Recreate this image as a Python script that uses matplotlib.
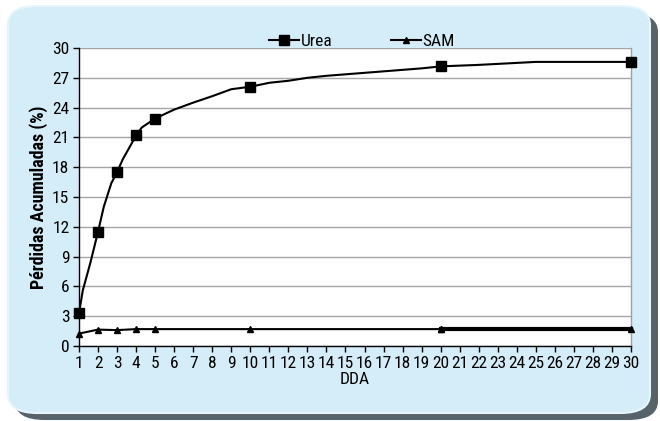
import matplotlib
matplotlib.use("Agg")
import matplotlib.pyplot as plt
from matplotlib import font_manager
from matplotlib.patches import FancyBboxPatch
from matplotlib.lines import Line2D

#--------------------------------------------------------------------
# DATA
#--------------------------------------------------------------------
MARKER_DAYS = [1, 2, 3, 4, 5, 10, 20, 30]
UREA = [3.3, 11.5, 17.5, 21.2, 22.9, 26.1, 28.15, 28.6]
SAM = [1.25, 1.65, 1.6, 1.7, 1.7, 1.7, 1.7, 1.7]

# smoothed urea curve
UREA_CURVE_DAYS = [1, 1.2, 1.6, 2, 2.3, 2.7, 3, 3.3, 3.8, 4, 4.3, 5, 6, 7, 8, 9,
                   10, 11, 12, 13, 14, 15, 16, 17, 18, 19, 20, 22, 25, 30]
UREA_CURVE = [3.3, 5.6, 8.4, 11.5, 14.0, 16.4, 17.5, 18.8, 20.5, 21.2, 22.0, 22.9,
              23.8, 24.5, 25.15, 25.85, 26.1, 26.5, 26.7, 27.0, 27.2, 27.35, 27.5,
              27.65, 27.8, 27.95, 28.15, 28.3, 28.6, 28.6]

X_TICKS = list(range(1, 31))
Y_TICKS = list(range(0, 31, 3))


def pick_font(names):
    for name in names:
        try:
            font_manager.findfont(name, fallback_to_default=False)
            return name
        except Exception:
            continue
    return "DejaVu Sans"


FONT = pick_font(["Liberation Sans Narrow", "Roboto Condensed", "Liberation Sans"])
plt.rcParams["font.family"] = [FONT, "DejaVu Sans"]

BOX_COLOR = "#d5edf8"
W, H = 660, 421

fig = plt.figure(figsize=(W / 100, H / 100), dpi=100)
fig.patch.set_facecolor("white")

# shadow + rounded panel (pixel boxes converted to figure coords)
shadow = FancyBboxPatch((15 / W, 1 / H), 643 / W, 407 / H,
                        boxstyle="round,pad=0,rounding_size=0.045",
                        transform=fig.transFigure, facecolor="#56636a",
                        edgecolor="none", zorder=0)
panel = FancyBboxPatch((8 / W, 8 / H), 642 / W, 407 / H,
                       boxstyle="round,pad=0,rounding_size=0.045",
                       transform=fig.transFigure, facecolor=BOX_COLOR,
                       edgecolor="#e6f4fb", linewidth=1.5, zorder=1)
fig.patches.extend([shadow, panel])

ax = fig.add_axes([79 / W, 1 - 346 / H, 552 / W, 298 / H])
ax.set_zorder(2)
ax.set_facecolor("white")

ax.plot(UREA_CURVE_DAYS, UREA_CURVE, color="black", lw=1.5, zorder=3)
ax.plot(MARKER_DAYS, UREA, ls="none", marker="s", ms=7.5, color="black",
        zorder=4, clip_on=False)

ax.plot(MARKER_DAYS[:7], SAM[:7], color="black", lw=1.5, marker="^", ms=5,
        zorder=3, clip_on=False)
ax.plot(MARKER_DAYS[6:], SAM[6:], color="black", lw=3, marker="^", ms=5,
        zorder=3, clip_on=False)

ax.set_xlim(1, 30)
ax.set_ylim(0, 30)
ax.set_xticks(X_TICKS)
ax.set_yticks(Y_TICKS)
ax.tick_params(axis="both", labelsize=12.5, length=4, width=1, color="black", pad=3)
ax.yaxis.grid(True, color="#a6a6a6", lw=1)
ax.set_axisbelow(True)

ax.spines["top"].set_visible(False)
ax.spines["right"].set_color("#a0a0a0")
ax.spines["right"].set_linewidth(1)
ax.spines["left"].set_linewidth(1)
ax.spines["bottom"].set_linewidth(1)

ax.set_xlabel("DDA", fontsize=12.5, labelpad=1)
ax.set_ylabel("Pérdidas Acumuladas (%)", fontsize=13, fontweight="bold", labelpad=3)

handles = [
    Line2D([], [], color="black", lw=1.5, marker="s", ms=7.5),
    Line2D([], [], color="black", lw=1.5, marker="^", ms=5),
]
fig.legend(handles, ["Urea", "SAM"], loc="center", bbox_to_anchor=(362 / W, 1 - 41 / H),
           ncol=2, frameon=False, fontsize=12.5, handlelength=1.7, handletextpad=0.1,
           columnspacing=3.4, borderpad=0)

fig.savefig("out.png", dpi=100, facecolor=fig.get_facecolor())
